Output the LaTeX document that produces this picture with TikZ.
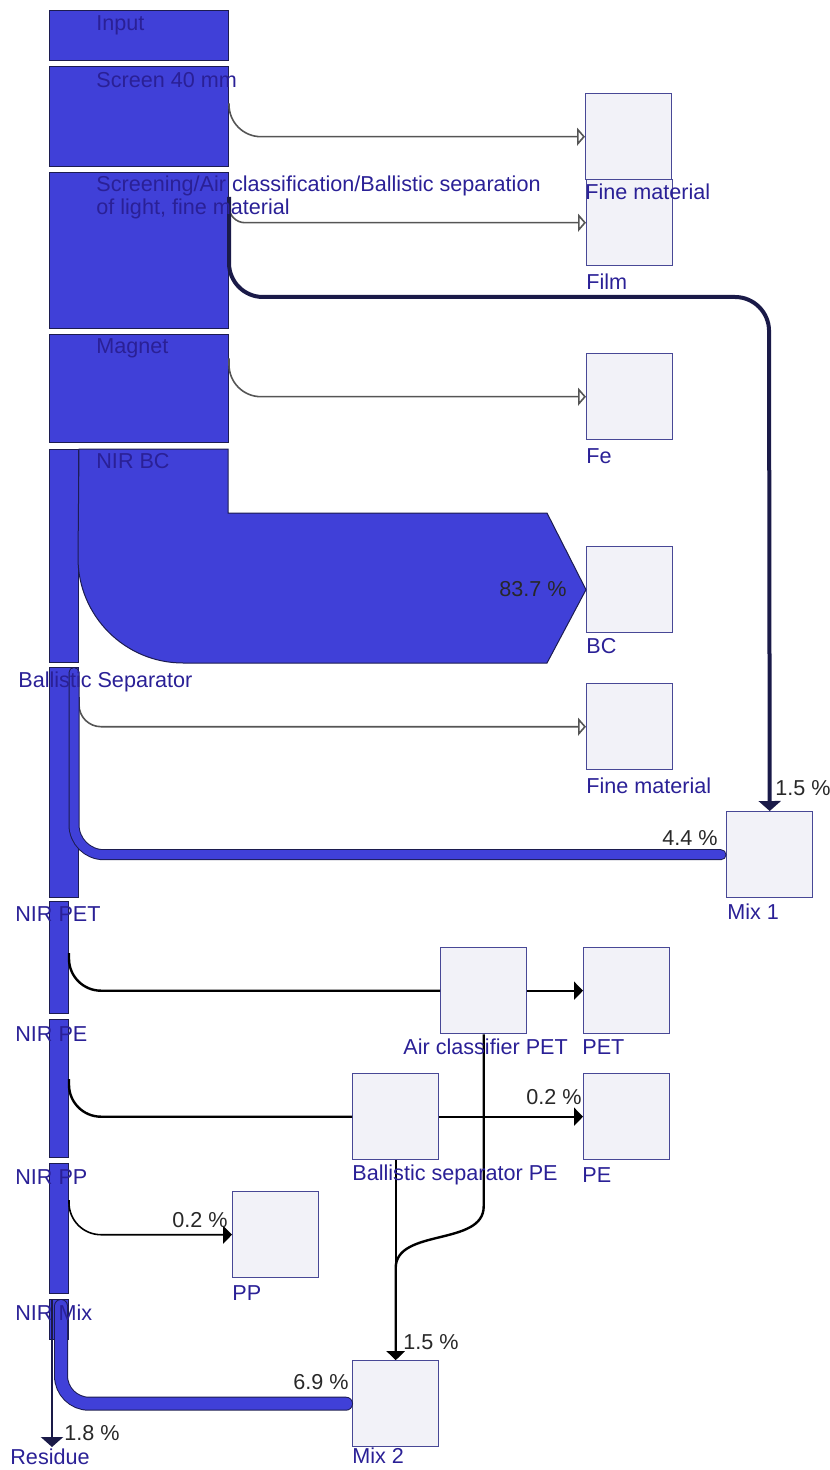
\documentclass[tikz,border=0pt]{standalone}
\usepackage{fontspec}
\setmainfont{Liberation Sans}
\usetikzlibrary{arrows.meta,calc}

\definecolor{flowblue}{RGB}{64,64,216}
\definecolor{procline}{RGB}{28,28,80}
\definecolor{boxfill}{RGB}{242,242,248}
\definecolor{boxline}{RGB}{72,72,150}
\definecolor{txtblue}{RGB}{42,32,150}
\definecolor{pcttxt}{RGB}{40,40,40}
\definecolor{thingray}{RGB}{85,85,85}
\definecolor{mixline}{RGB}{26,26,72}

\begin{document}
\begin{tikzpicture}[x=0.5pt,y=-0.5pt,
    proc/.style={draw=procline,fill=flowblue,rectangle,inner sep=0pt,
      anchor=north west,line width=0.5pt},
    sink/.style={draw=boxline,fill=boxfill,rectangle,inner sep=0pt,
      anchor=north west,minimum width=43pt,minimum height=43pt,line width=0.7pt},
    txt/.style={text=txtblue,anchor=west,inner sep=0pt,
      font=\fontsize{10.8}{11.5}\selectfont},
    pct/.style={text=pcttxt,inner sep=0pt,font=\fontsize{10.8}{11.5}\selectfont},
    thinflow/.style={draw=thingray,line width=0.8pt,rounded corners=16pt,
      -{Triangle[open,length=4pt,width=9pt]}},
    blkflow/.style={draw=black,line width=1.2pt,rounded corners=16pt},
    blkarrow/.style={blkflow,-{Triangle[length=4.5pt,width=9pt]}},
    tube/.style={draw=procline,double=flowblue,line width=0.5pt,
      double distance=4.5pt,rounded corners=15pt}]
  \useasboundingbox (0,0) rectangle (829,1470);

  % left column
  \node[proc,minimum width=89.5pt,minimum height=25pt] (input) at (49,10) {};
  \node[proc,minimum width=89.5pt,minimum height=50pt] (screen) at (49,66) {};
  \node[proc,minimum width=89.5pt,minimum height=78pt] (screening) at (49,172) {};
  \node[proc,minimum width=89.5pt,minimum height=54pt] (magnet) at (49,334) {};
  \node[proc,minimum width=14.5pt,minimum height=106.5pt] (nirbc) at (49,449) {};
  \node[proc,minimum width=14.5pt,minimum height=115pt] (ballsep) at (49,667) {};
  \node[proc,minimum width=9.5pt,minimum height=56pt] (nirpet) at (49,901) {};
  \node[proc,minimum width=9.5pt,minimum height=69pt] (nirpe) at (49,1019) {};
  \node[proc,minimum width=9.5pt,minimum height=65pt] (nirpp) at (49,1163) {};
  \node[proc,minimum width=9.5pt,minimum height=20pt] (nirmix) at (49,1299) {};

  % sinks
  \node[sink] (fine1) at (585,93) {};
  \node[sink] (film) at (586,179) {};
  \node[sink] (fe) at (586,353) {};
  \node[sink] (bc) at (586,546) {};
  \node[sink] (fine2) at (586,683) {};
  \node[sink] (mix1) at (726,811) {};
  \node[sink] (aircls) at (440,947) {};
  \node[sink] (pet) at (583,947) {};
  \node[sink] (ballpe) at (352,1073) {};
  \node[sink] (pe) at (583,1073) {};
  \node[sink] (pp) at (232,1191) {};
  \node[sink] (mix2) at (352,1360) {};
  \coordinate (residue) at (52,1447);
  \coordinate (mix1bend) at (769,297);

  % flows
  \draw[thinflow] ($(screen.east)+(0,-13)$) |- (fine1.west);
  \draw[thinflow,rounded corners=8pt] ($(screening.north east)+(0,33)$) |- (film.west);
  \draw[draw=mixline,line width=2pt,rounded corners=17pt,
    -{Triangle[length=5pt,width=11pt]}] ($(screening.north east)+(0,25)$) |- (mix1bend) -- (mix1.north);
  \draw[thinflow] ($(magnet.east)+(0,-30)$) |- (fe.west);
  \filldraw[fill=flowblue,draw=procline,line width=0.5pt] (nirbc.north east) -- (228,449)
    -- (228,513) -- (547,513) -- (bc.west) -- (547,663) -- (183,663)
    .. controls (125,663) and (78,616) .. (78,558) -- cycle;
  \draw[thinflow,rounded corners=11pt] ($(ballsep.north east)+(0,30)$) |- (fine2.west);
  \draw[tube,line cap=round,shorten >=2.5pt,shorten <=2.8pt]
    ($(ballsep.north east)+(-5,0)$) |- (mix1.west);
  \draw[blkflow] ($(nirpet.north east)+(0,52)$) |- (aircls.west);
  \draw[blkarrow] (aircls.east) -- (pet.west);
  \draw[blkflow] ($(nirpe.north east)+(0,60)$) |- (ballpe.west);
  \draw[blkarrow] (ballpe.east) -- (pe.west);
  \draw[draw=black,line width=0.8pt,rounded corners=16pt,
    -{Triangle[length=4.5pt,width=9pt]}] ($(nirpp.north east)+(0,37)$) |- (pp.west);
  \draw[blkarrow] (ballpe.south) -- (mix2.north);
  \draw[blkarrow,sharp corners] (aircls.south) -- ($(aircls.south)+(0,172)$)
    .. controls +(0,40) and +(0,-40) .. ($(mix2.north)+(0,-92)$) -- (mix2.north);
  \draw[tube,double distance=6pt,rounded corners=14pt,line cap=round,
    shorten >=3pt,shorten <=3.5pt] ($(nirmix.north)+(2,0)$) |- (mix2.west);
  \draw[draw=mixline,line width=1.2pt,-{Triangle[length=5pt,width=11pt]}]
    ($(nirmix.north west)+(3,0)$) -- (residue);

  % percentages
  \node[pct] (pctbc) at (533,589) {83.7 \%};
  \node[pct] (pctmix1a) at (803,788) {1.5 \%};
  \node[pct] (pctmix1b) at (690,838) {4.4 \%};
  \node[pct] (pctpe) at (554,1097) {0.2 \%};
  \node[pct] (pctpp) at (200,1220) {0.2 \%};
  \node[pct] (pctmix2a) at (431,1342) {1.5 \%};
  \node[pct] (pctmix2b) at (321,1382) {6.9 \%};
  \node[pct] (pctres) at (92,1433) {1.8 \%};

  % labels
  \node[txt] (inputlbl) at (96,25) {Input};
  \node[txt] (screenlbl) at (96,80) {Screen 40 mm};
  \node[txt,align=left] (screeninglbl) at (96,197) {Screening/Air classification/Ballistic separation\\of light, fine material};
  \node[txt] (magnetlbl) at (96,348) {Magnet};
  \node[txt] (nirbclbl) at (96,461) {NIR BC};
  \node[txt] (ballseplbl) at (18,682) {Ballistic Separator};
  \node[txt] (nirpetlbl) at (15,914) {NIR PET};
  \node[txt] (nirpelbl) at (15,1034) {NIR PE};
  \node[txt] (nirpplbl) at (15,1177) {NIR PP};
  \node[txt] (nirmixlbl) at (15,1313) {NIR Mix};
  \node[txt] (residuelbl) at (10,1457) {Residue};
  \node[txt] (fine1lbl) at (585,192) {Fine material};
  \node[txt] (filmlbl) at (586,282) {Film};
  \node[txt] (felbl) at (586,456) {Fe};
  \node[txt] (bclbl) at (586,646) {BC};
  \node[txt] (fine2lbl) at (586,786) {Fine material};
  \node[txt] (mix1lbl) at (727,912) {Mix 1};
  \node[txt] (airclslbl) at (403,1047) {Air classifier PET};
  \node[txt] (petlbl) at (582,1047) {PET};
  \node[txt] (ballpelbl) at (352,1175) {Ballistic separator PE};
  \node[txt] (pelbl) at (582,1175) {PE};
  \node[txt] (pplbl) at (232,1293) {PP};
  \node[txt] (mix2lbl) at (352,1456) {Mix 2};
\end{tikzpicture}
\end{document}
